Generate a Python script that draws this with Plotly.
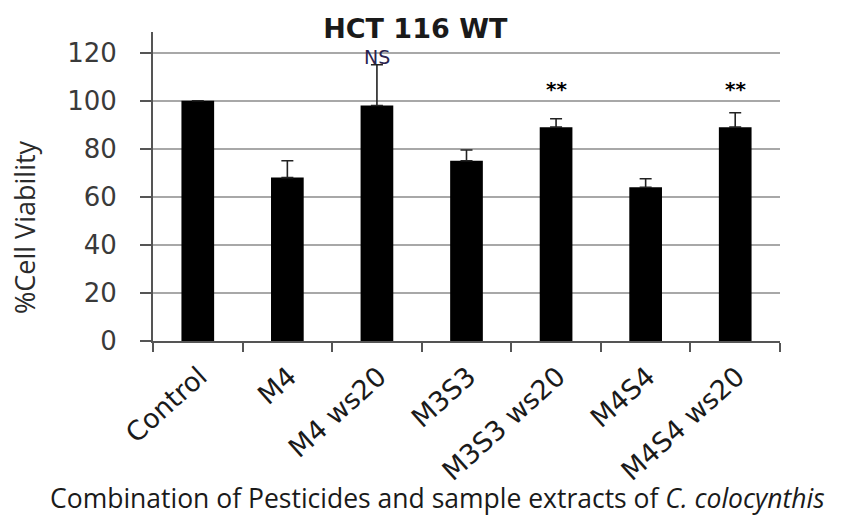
import plotly.graph_objects as go

# Treatment groups and measured viability (mean and SD)
categories = ["Control", "M4", "M4 ws20", "M3S3", "M3S3 ws20", "M4S4", "M4S4 ws20"]
viability = [100, 68, 98, 75, 89, 64, 89]
sd = [0, 7, 17, 4.5, 3.5, 3.5, 6]
significance = ["", "", "NS", "", "**", "", "**"]
sig_level = [0, 0, 118, 0, 105.5, 0, 105.5]
y_ticks = [0, 20, 40, 60, 80, 100, 120]

fig = go.Figure()
fig.add_trace(go.Bar(
    x=categories,
    y=viability,
    width=0.365,
    marker=dict(color="black", line=dict(width=0)),
    error_y=dict(type="data", array=sd, arrayminus=[0] * len(sd),
                 color="#222222", thickness=1.6, width=6, visible=True),
    showlegend=False,
))

for cat, txt, lvl in zip(categories, significance, sig_level):
    if not txt:
        continue
    if txt == "NS":
        fig.add_annotation(x=cat, y=lvl, text=txt, showarrow=False,
                           font=dict(family="DejaVu Sans", size=19, color="#2a2450"),
                           yanchor="middle")
    else:
        fig.add_annotation(x=cat, y=lvl, text="<b>" + txt + "</b>", showarrow=False,
                           font=dict(family="DejaVu Sans", size=20, color="black"),
                           yanchor="middle", yshift=-1)

# Axis titles placed in paper coordinates
fig.add_annotation(
    xref="paper", yref="paper", x=-0.204, y=0.369,
    xanchor="center", yanchor="middle", textangle=-90, showarrow=False,
    text="%Cell Viability",
    font=dict(family="Open Sans", size=27, color="#2a2a2a"),
)
fig.add_annotation(
    xref="paper", yref="paper", x=0.453, y=-0.508,
    xanchor="center", yanchor="middle", showarrow=False,
    text="Combination of Pesticides and sample extracts of <i>C. colocynthis</i>",
    font=dict(family="Open Sans", size=26.5, color="#1a1a1a"),
)

fig.update_layout(
    width=844, height=515,
    margin=dict(l=153, r=64, t=32, b=174),
    paper_bgcolor="white", plot_bgcolor="white",
    title=dict(text="<b>HCT 116 WT</b>", x=0.492, xanchor="center",
               y=0.945, yanchor="middle",
               font=dict(family="DejaVu Sans", size=27, color="#1a1a1a")),
    bargap=0.6,
)

fig.update_yaxes(
    range=[0, 128.6], tickvals=y_ticks, automargin=False,
    showgrid=True, gridcolor="#a8a8a8", gridwidth=2,
    showline=True, linecolor="#555555", linewidth=2,
    ticks="outside", ticklen=11, tickcolor="#555555", tickwidth=2,
    ticklabelstandoff=18,
    tickfont=dict(family="DejaVu Sans", size=26, color="#3a3a3a"),
    zeroline=False,
)

fig.update_xaxes(
    type="category", tickson="boundaries", automargin=False,
    showline=True, linecolor="#555555", linewidth=2,
    ticks="outside", ticklen=9, tickcolor="#555555", tickwidth=2,
    tickangle=-42, ticklabelshift=2, ticklabelstandoff=7,
    tickfont=dict(family="DejaVu Sans", size=27, color="#1a1a1a"),
)

fig.write_html("out.html")
